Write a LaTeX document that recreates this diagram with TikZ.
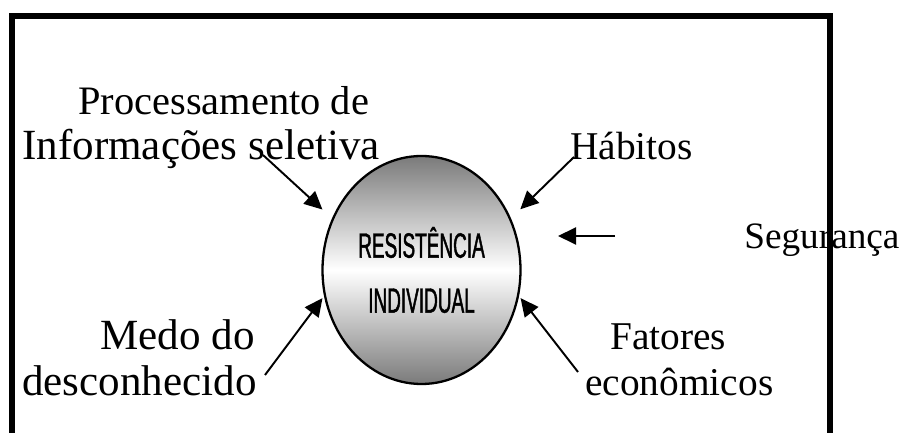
\documentclass[tikz,border=0pt]{standalone}
\usepackage{fontspec}
\setmainfont{Liberation Serif}
\newfontfamily\condfont[FakeStretch=0.54,FakeBold=1.2]{Liberation Sans}
\usetikzlibrary{shapes.geometric,arrows.meta,positioning}
\tikzset{
  lbl/.style={anchor=base west, inner sep=0pt, font=\fontsize{22.4}{25.6}\selectfont},
  lblbig/.style={lbl, font=\fontsize{24.5}{25.6}\selectfont},
  arr/.style={line width=1.1pt, -{Triangle[length=0.36cm,width=0.34cm]}}
}
\begin{document}
\begin{tikzpicture}
  \useasboundingbox (0,0) rectangle (18.04,8.66);
    % moldura
    \draw[line width=3.4pt] (0.24,-0.2) -- (0.24,8.34) -- (16.6,8.34) -- (16.6,-0.2);
    % elipse central
    \node[ellipse, draw, line width=1.3pt, minimum width=3.96cm, minimum height=4.56cm, inner sep=0pt,
          top color=black!52, bottom color=black!52, middle color=white,
          align=center, font=\condfont\fontsize{20}{31.3}\selectfont] (res) at (8.43,3.26)
          {RESISTÊNCIA\\INDIVIDUAL};
    % rotulos
    \node[lbl, font=\fontsize{23}{25.6}\selectfont] (proc1) at (1.56,6.36) {Processamento de};
    \node[lblbig] (proc2) at (0.44,5.46) {Informações seletiva};
    \node[lbl] (hab) at (11.4,5.46) {Hábitos};
    \node[lbl, font=\fontsize{21.2}{25.6}\selectfont] (seg) at (14.88,3.68) {Segurança};
    \node[lblbig] (medo1) at (2.0,1.66) {Medo do};
    \node[lblbig] (medo2) at (0.44,0.76) {desconhecido};
    \node[lbl] (fat1) at (12.2,1.66) {Fatores};
    \node[lbl] (fat2) at (11.7,0.76) {econômicos};
    % setas
    \coordinate (procA) at (5.26,5.56);
    \coordinate (habA) at (11.48,5.52);
    \coordinate (segA) at (12.3,3.94);
    \coordinate (segB) at (11.16,3.94);
    \coordinate (medoA) at (5.3,1.16);
    \coordinate (fatA) at (11.56,1.22);
    \draw[arr, shorten >=0.26cm] (procA) -- (res.150);
    \draw[arr, shorten >=0.26cm] (habA) -- (res.30);
    \draw[arr] (segA) -- (segB);
    \draw[arr, shorten >=0.05cm] (medoA) -- (res.195);
    \draw[arr, shorten >=0.05cm] (fatA) -- (res.-15);
\end{tikzpicture}
\end{document}
